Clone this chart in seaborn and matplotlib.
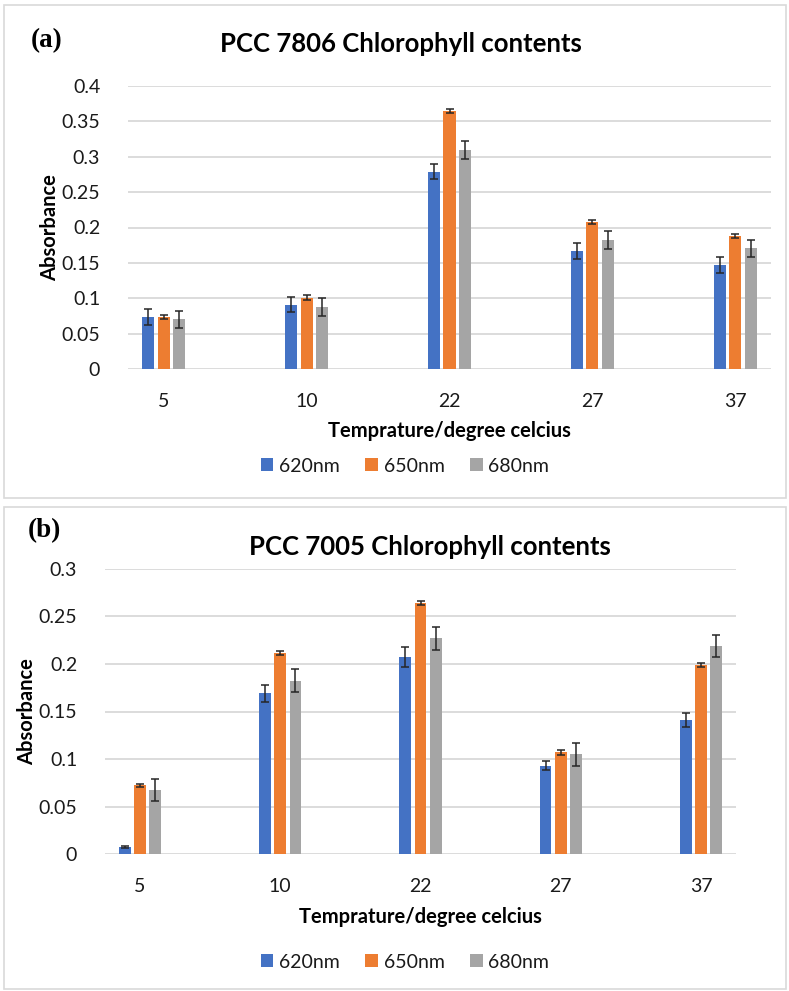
import numpy as np
import pandas as pd
import matplotlib
matplotlib.use("Agg")
import matplotlib.pyplot as plt
from matplotlib.patches import Rectangle
from matplotlib.container import BarContainer
from matplotlib.ticker import FuncFormatter, MultipleLocator
import seaborn as sns

# ---------------- data ----------------
temperatures = ["5", "10", "22", "27", "37"]
wavelengths = ["620nm", "650nm", "680nm"]

# Panel (a): PCC 7806
a_620 = [0.074, 0.091, 0.279, 0.167, 0.147]
a_650 = [0.073, 0.101, 0.365, 0.208, 0.188]
a_680 = [0.070, 0.088, 0.310, 0.182, 0.171]
a_620_err = [0.0115, 0.011, 0.011, 0.011, 0.011]
a_650_err = [0.003, 0.003, 0.003, 0.003, 0.0025]
a_680_err = [0.0125, 0.0125, 0.0125, 0.0125, 0.012]

# Panel (b): PCC 7005
b_620 = [0.007, 0.169, 0.2075, 0.093, 0.141]
b_650 = [0.0726, 0.212, 0.264, 0.107, 0.1987]
b_680 = [0.067, 0.1826, 0.227, 0.105, 0.219]
b_620_err = [0.001, 0.0086, 0.0107, 0.0047, 0.0074]
b_650_err = [0.0016, 0.002, 0.002, 0.0023, 0.002]
b_680_err = [0.0117, 0.012, 0.012, 0.012, 0.012]

title_a = "PCC 7806 Chlorophyll contents"
title_b = "PCC 7005 Chlorophyll contents"
xlabel = "Temprature/degree celcius"
ylabel = "Absorbance"

colors = ["#4472C4", "#ED7D31", "#A5A5A5"]

# ---------------- figure ----------------
sns.set_theme(style="white")
plt.rcParams["font.family"] = ["Lato", "DejaVu Sans"]

W, H = 789, 991
fig = plt.figure(figsize=(W / 100, H / 100), dpi=100)
fig.patch.set_facecolor("white")


def fx(px):
    return px / W


def fy(py):
    return 1 - py / H


# panel borders
for (x0, y0, x1, y1) in [(4, 5, 786, 498), (4, 507, 786, 989)]:
    fig.patches.append(Rectangle((fx(x0), fy(y1)), fx(x1) - fx(x0), fy(y0) - fy(y1),
                                 transform=fig.transFigure, fill=False,
                                 edgecolor="#D9D9D9", linewidth=1.2, zorder=0))


def make_long(v620, v650, v680):
    rows = []
    for lab, vals in zip(wavelengths, [v620, v650, v680]):
        for t, v in zip(temperatures, vals):
            rows.append({"Temperature": t, "Wavelength": lab, "Absorbance": v})
    return pd.DataFrame(rows)


def draw_panel(ax_box, vals, errs, ymax, title, tag, title_xy, tag_xy,
               xlabel_y, ylabel_x, legend_y):
    l, b, r, t = ax_box
    ax = fig.add_axes([fx(l), fy(b), fx(r) - fx(l), fy(t) - fy(b)])
    df = make_long(*vals)
    sns.barplot(data=df, x="Temperature", y="Absorbance", hue="Wavelength",
                order=temperatures, hue_order=wavelengths, palette=colors,
                saturation=1, width=0.325, gap=0.22, errorbar=None, linewidth=0,
                ax=ax, zorder=3)
    bars = [c for c in ax.containers if isinstance(c, BarContainer)]
    for cont, err in zip(bars, errs):
        xs = [p.get_x() + p.get_width() / 2 for p in cont.patches]
        hs = [p.get_height() for p in cont.patches]
        ax.errorbar(xs, hs, yerr=err, fmt="none", ecolor="#262626",
                    elinewidth=1.1, capsize=3.2, capthick=1.1, zorder=4)
    ax.set_xlim(-0.25, 4.25)
    ax.set_ylim(0, ymax)
    ax.yaxis.set_major_locator(MultipleLocator(0.05))
    ax.yaxis.set_major_formatter(FuncFormatter(lambda v, p: f"{v:.2f}".rstrip("0").rstrip(".") if v else "0"))
    ax.grid(axis="y", color="#D9D9D9", linewidth=1.3, zorder=0)
    ax.set_axisbelow(True)
    for s in ax.spines.values():
        s.set_visible(False)
    ax.tick_params(axis="both", length=0, labelsize=14, labelcolor="#1a1a1a")
    ax.tick_params(axis="x", pad=17)
    ax.tick_params(axis="y", pad=20)
    ax.set_xlabel("")
    ax.set_ylabel("")
    leg = ax.get_legend()
    if leg is not None:
        leg.remove()
    handles = [c.patches[0] for c in bars]
    fig.legend(handles, wavelengths, loc="center",
               bbox_to_anchor=(fx(405), fy(legend_y)), bbox_transform=fig.transFigure,
               ncol=3, frameon=False, fontsize=14, handlelength=0.65, handleheight=0.65,
               handletextpad=0.3, columnspacing=1.3, labelcolor="#1a1a1a")
    fig.text(fx((l + r) / 2), fy(xlabel_y), xlabel, ha="center", va="center",
             fontsize=14.5, fontweight="bold", color="#000000")
    fig.text(fx(ylabel_x), fy((t + b) / 2), ylabel, ha="center", va="center",
             rotation=90, fontsize=14.5, fontweight="bold", color="#000000")
    fig.text(fx(title_xy[0]), fy(title_xy[1]), title, ha="center", va="center",
             fontsize=18.5, fontweight="bold", color="#000000")
    fig.text(fx(tag_xy[0]), fy(tag_xy[1]), tag, ha="center", va="center",
             fontsize=19.5, fontweight="bold", family="Liberation Serif", color="#000000")
    return ax


draw_panel((128, 369, 771, 86), (a_620, a_650, a_680), (a_620_err, a_650_err, a_680_err),
           0.4, title_a, "(a)", (401, 44), (47, 41), 431, 50, 466)
draw_panel((105, 854, 736, 569), (b_620, b_650, b_680), (b_620_err, b_650_err, b_680_err),
           0.3, title_b, "(b)", (430, 547), (44, 531), 917, 27, 962)

fig.savefig("out.png", dpi=100, facecolor="white")
